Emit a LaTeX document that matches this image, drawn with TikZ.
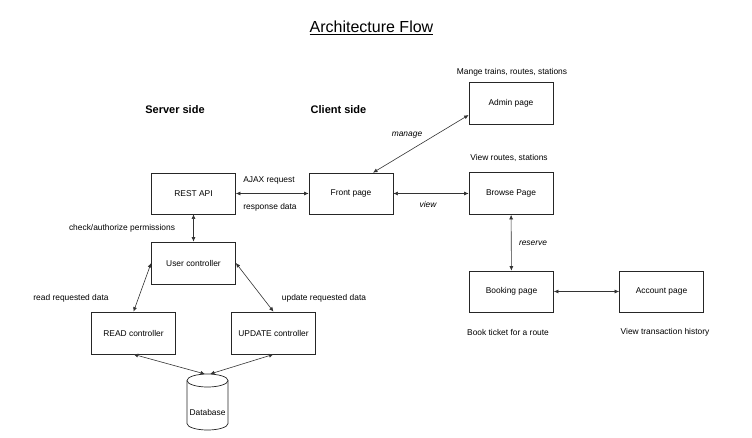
\documentclass[tikz,border=0pt]{standalone}
\usepackage{fontspec}
\setmainfont{Liberation Sans}
\usetikzlibrary{arrows.meta}
\begin{document}
\begin{tikzpicture}[x=1pt,y=-1pt,
  box/.style={draw=black!85,line width=0.7pt,minimum width=84pt,minimum height=41pt,inner sep=0pt,font=\fontsize{8.4}{10}\selectfont},
  lbl/.style={font=\fontsize{8.4}{10}\selectfont,inner sep=0pt},
  ilbl/.style={font=\fontsize{8.4}{10}\selectfont\itshape,inner sep=0pt},
  hdr/.style={font=\fontsize{11}{13}\selectfont\bfseries,inner sep=0pt},
  conn/.style={draw=black!80,line width=0.6pt,{Latex[length=4.5pt,width=4pt]}-{Latex[length=4.5pt,width=4pt]}}
]
\useasboundingbox (0,0) rectangle (752,437);
% title and headers
\node[inner sep=0pt,font=\fontsize{16}{19}\selectfont] (title) at (371.5,28) {\underline{Architecture Flow}};
\node[hdr] (server) at (175,110) {Server side};
\node[hdr] (client) at (338.5,110) {Client side};
% boxes
\node[box] (rest) at (193.5,193.5) {REST API};
\node[box] (front) at (351,193.5) {Front page};
\node[box,minimum height=42pt] (user) at (193.5,263) {User controller};
\node[box,minimum height=42pt] (read) at (133.5,333) {READ controller};
\node[box,minimum height=42pt] (update) at (273.5,333) {UPDATE controller};
\node[box,minimum height=42pt] (admin) at (511,103) {Admin page};
\node[box,minimum height=42pt] (browse) at (511,193.5) {Browse Page};
\node[box] (booking) at (511.5,291.5) {Booking page};
\node[box] (account) at (661.5,291.5) {Account page};
% database cylinder
\draw[black!85,line width=0.7pt,fill=white] (187,380.5) -- (187,423.5) arc[start angle=180,end angle=360,x radius=20.5,y radius=-6.5] -- (228,380.5);
\draw[black!85,line width=0.7pt] (207.5,380.5) ellipse [x radius=20.5, y radius=6.5];
\node[lbl] (db) at (207.5,412) {Database};
\coordinate (dbl) at (205,374);
\coordinate (dbr) at (210,374);
% annotations
\node[lbl] (ajax) at (269,180) {AJAX request};
\node[lbl] (resp) at (270,207) {response data};
\node[lbl] (check) at (122,228) {check/authorize permissions};
\node[lbl] (readreq) at (71,298) {read requested data};
\node[lbl] (updreq) at (324,298) {update requested data};
\node[lbl] (mange) at (512,72) {Mange trains, routes, stations};
\node[lbl] (viewrs) at (509,158) {View routes, stations};
\node[ilbl] (manage) at (407,135) {manage};
\node[ilbl] (view) at (428,204) {view};
\node[ilbl] (reserve) at (533,243) {reserve};
\node[lbl] (bookt) at (508,332) {Book ticket for a route};
\node[lbl] (viewt) at (665,332) {View transaction history};
% connectors
\draw[conn] (rest) -- (front);
\draw[conn] (rest) -- (user);
\draw[conn] (user.west) -- (read.north);
\draw[conn] (user.east) -- (update.north);
\draw[conn] (read.south) -- (dbl);
\draw[conn] (update.south) -- (dbr);
\draw[conn] ([xshift=22pt]front.north) -- ([yshift=-12pt]admin.west);
\draw[conn] (front) -- (browse);
\draw[conn] (browse) -- (booking);
\draw[conn] (booking) -- (account);
\end{tikzpicture}
\end{document}
